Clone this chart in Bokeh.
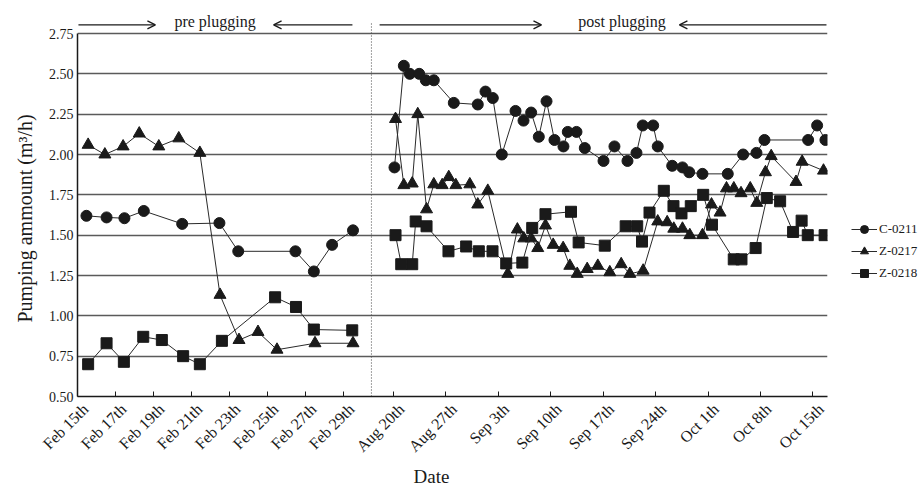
import math
from bokeh.plotting import figure
from bokeh.models import (FixedTicker, Legend, LegendItem, Arrow, OpenHead, Label, LinearAxis,
                          Title)
from bokeh.embed import file_html
from bokeh.resources import INLINE

# ---------------- data ----------------
# pre plugging: day of February
pre_c0211_day = [15.47, 16.53, 17.47, 18.49, 20.51, 22.47, 23.46, 26.47, 27.44, 28.4, 29.5]
pre_c0211 = [1.62, 1.61, 1.605, 1.65, 1.57, 1.575, 1.40, 1.40, 1.275, 1.44, 1.53]
pre_z0217_day = [15.56, 16.44, 17.4, 18.25, 19.28, 20.33, 21.44, 22.5, 23.5, 24.5, 25.5, 27.5, 29.5]
pre_z0217 = [2.06, 2.00, 2.05, 2.13, 2.05, 2.10, 2.01, 1.13, 0.85, 0.90, 0.79, 0.83, 0.83]
pre_z0218_day = [15.56, 16.53, 17.44, 18.46, 19.44, 20.56, 21.44, 22.6, 25.4, 26.5, 27.44, 29.46]
pre_z0218 = [0.70, 0.83, 0.715, 0.87, 0.85, 0.75, 0.70, 0.845, 1.115, 1.055, 0.915, 0.91]

# post plugging: days after Aug 20
post_c0211_day = [0.13, 1.38, 2.18, 3.43, 4.31, 5.38, 8.05, 11.25, 12.28, 13.26, 14.46, 16.29,
                  17.36, 18.38, 19.40, 20.43, 21.49, 22.69, 23.27, 24.43, 25.54, 28.04, 29.50,
                  31.24, 32.44, 33.28, 34.67, 35.28, 37.21, 38.58, 39.48, 41.25, 44.63, 46.68,
                  48.46, 49.53, 55.36, 56.56, 57.67]
post_c0211 = [1.92, 2.55, 2.50, 2.50, 2.46, 2.46, 2.32, 2.31, 2.39, 2.35, 2.00, 2.27,
              2.21, 2.26, 2.11, 2.33, 2.09, 2.05, 2.14, 2.14, 2.04, 1.96, 2.05,
              1.96, 2.01, 2.18, 2.18, 2.05, 1.93, 1.92, 1.89, 1.88, 1.88, 2.00,
              2.01, 2.09, 2.09, 2.18, 2.09]
post_z0217_day = [0.27, 1.38, 2.5, 3.24, 4.41, 5.38, 6.5, 7.38, 8.32, 10.19, 11.25, 12.59,
                  15.26, 16.54, 17.39, 18.38, 19.26, 20.29, 21.32, 22.65, 23.54, 24.53, 25.86,
                  27.28, 28.88, 30.40, 31.55, 33.33, 35.28, 36.54, 37.42, 38.58, 39.56, 41.25,
                  42.46, 43.6, 44.46, 45.44, 46.40, 47.63, 48.5, 49.66, 50.43, 53.74, 54.56, 57.41]
post_z0217 = [2.22, 1.81, 1.82, 2.25, 1.66, 1.815, 1.81, 1.86, 1.81, 1.815, 1.69, 1.775,
              1.26, 1.535, 1.48, 1.48, 1.42, 1.56, 1.44, 1.42, 1.31, 1.26, 1.29,
              1.31, 1.27, 1.32, 1.26, 1.28, 1.585, 1.58, 1.54, 1.54, 1.50, 1.50,
              1.69, 1.64, 1.79, 1.79, 1.76, 1.79, 1.70, 1.89, 1.99, 1.83, 1.955, 1.90]
post_z0218_day = [0.27, 1.03, 2.5, 2.96, 4.41, 7.34, 9.70, 11.39, 13.22, 15.05, 17.20, 18.52,
                  20.29, 23.70, 24.72, 28.21, 31.00, 32.54, 33.18, 34.18, 36.09, 37.38, 38.45,
                  39.69, 41.35, 42.52, 45.43, 46.46, 48.35, 49.84, 51.62, 53.35, 54.49, 55.31,
                  57.56]
post_z0218 = [1.50, 1.32, 1.32, 1.585, 1.555, 1.40, 1.43, 1.40, 1.40, 1.325, 1.33, 1.545,
              1.63, 1.645, 1.455, 1.435, 1.555, 1.555, 1.46, 1.64, 1.775, 1.68, 1.635,
              1.68, 1.75, 1.565, 1.35, 1.35, 1.42, 1.73, 1.71, 1.52, 1.59, 1.50,
              1.50]

pre_tick_days = [15, 17, 19, 21, 23, 25, 27, 29]
post_tick_days = [0, 7, 14, 21, 28, 35, 42, 49, 56]
x_tick_labels = ["Feb 15th", "Feb 17th", "Feb 19th", "Feb 21th", "Feb 23th", "Feb 25th",
                 "Feb 27th", "Feb 29th", "Aug 20th", "Aug 27th", "Sep 3th", "Sep 10th",
                 "Sep 17th", "Sep 24th", "Oct 1th", "Oct 8th", "Oct 15th"]
y_ticks = [0.50, 0.75, 1.00, 1.25, 1.50, 1.75, 2.00, 2.25, 2.50, 2.75]
y_tick_labels = ["0.50", "0.75", "1.00", "1.25", "1.50", "1.75", "2.00", "2.25", "2.50", "2.75"]
series_names = ["C-0211", "Z-0217", "Z-0218"]

# ---------------- broken time axis ----------------
PRE_START = 15.0        # Feb 15 at the left edge
POST_OFFSET = 16.632    # position of Aug 20
POST_SCALE = 0.3942     # compressed scale after plugging
LABEL_SHIFT = 0.42      # rotated labels sit slightly right of their tick


def pre_x(days):
    return [d - PRE_START for d in days]


def post_x(days):
    return [POST_OFFSET + d * POST_SCALE for d in days]


FONT = "Liberation Serif"
INK = "#1a1a1a"

p = figure(frame_width=750, frame_height=386, output_backend="svg", toolbar_location=None,
           x_range=(0, 39.474), y_range=(0.5, 2.8926),
           min_border_left=77, min_border_right=93, min_border_top=10, min_border_bottom=80)
p.outline_line_color = None
p.background_fill_color = "white"
p.border_fill_color = "white"

# grid
p.xgrid.visible = False
p.ygrid.grid_line_color = "#5a5a5a"
p.ygrid.grid_line_width = 1.5

# y axis
p.yaxis.ticker = FixedTicker(ticks=y_ticks)
p.yaxis.major_label_overrides = {t: l for t, l in zip(y_ticks, y_tick_labels)}
p.yaxis.bounds = (0.5, 2.75)
p.yaxis.major_tick_in = 0
p.yaxis.major_tick_out = 0
p.yaxis.minor_tick_line_color = None
p.yaxis.axis_line_color = INK
p.yaxis.axis_line_width = 1.5
p.yaxis.major_label_text_font = FONT
p.yaxis.major_label_text_font_size = "14px"
p.yaxis.major_label_text_color = INK
p.yaxis.major_label_standoff = 4

p.add_layout(Title(text="Pumping ammount (m³/h)", align="left", offset=74, standoff=20,
                   text_font=FONT, text_font_size="20px", text_font_style="normal",
                   text_color=INK), "left")

# x axis: tick marks on the axis line
x_ticks = [round(v, 4) for v in pre_x(pre_tick_days) + post_x(post_tick_days)]
p.xaxis.ticker = FixedTicker(ticks=x_ticks)
p.xaxis.major_label_overrides = {t: "" for t in x_ticks}
p.xaxis.major_label_text_font_size = "1px"
p.xaxis.major_label_standoff = 0
p.xaxis.major_tick_in = 5
p.xaxis.major_tick_out = 0
p.xaxis.major_tick_line_color = INK
p.xaxis.minor_tick_line_color = None
p.xaxis.axis_line_color = INK
p.xaxis.axis_line_width = 1.5

# x axis: rotated date labels
lab_ticks = [round(t + LABEL_SHIFT, 4) for t in x_ticks]
lab_axis = LinearAxis(ticker=FixedTicker(ticks=lab_ticks),
                      major_label_overrides={t: l for t, l in zip(lab_ticks, x_tick_labels)},
                      major_label_orientation=math.pi / 4,
                      axis_line_color=None, major_tick_line_color=None,
                      minor_tick_line_color=None, major_tick_in=0, major_tick_out=0,
                      major_label_standoff=10, major_label_text_font=FONT,
                      major_label_text_font_size="16px", major_label_text_color=INK)
p.add_layout(lab_axis, "below")

p.add_layout(Title(text="Date", align="left", offset=336, standoff=0, text_font=FONT,
                   text_font_size="19px", text_font_style="normal", text_color=INK), "below")

# separator and period annotations
p.segment(x0=[15.47], y0=[0.5], x1=[15.47], y1=[2.824], line_color="#444444",
          line_width=1, line_dash="1 2")
arrow_y = 2.804
for xs, xe in [(0.05, 4.1), (14.47, 10.32), (15.9, 24.42), (39.42, 31.68)]:
    p.add_layout(Arrow(x_start=xs, y_start=arrow_y, x_end=xe, y_end=arrow_y,
                       line_color=INK, line_width=1.2,
                       end=OpenHead(size=8, line_color=INK, line_width=1.3)))
for xc, txt in [(7.24, "pre plugging"), (28.66, "post plugging")]:
    p.add_layout(Label(x=xc, y=2.822, text=txt, text_font=FONT, text_font_size="16px",
                       text_align="center", text_baseline="middle", text_color=INK))

# series
pre_days = [pre_c0211_day, pre_z0217_day, pre_z0218_day]
pre_vals = [pre_c0211, pre_z0217, pre_z0218]
post_days = [post_c0211_day, post_z0217_day, post_z0218_day]
post_vals = [post_c0211, post_z0217, post_z0218]
markers = ["circle", "triangle", "square"]
sizes = [11, 12, 11]

items = []
for name, pd_, pv, qd, qv, mk, sz in zip(series_names, pre_days, pre_vals, post_days,
                                          post_vals, markers, sizes):
    l1 = p.line(pre_x(pd_), pv, line_color="#2a2a2a", line_width=1)
    l2 = p.line(post_x(qd), qv, line_color="#2a2a2a", line_width=1)
    s = p.scatter(pre_x(pd_) + post_x(qd), pv + qv, marker=mk, size=sz,
                  fill_color=INK, line_color=INK)
    items.append(LegendItem(label=name, renderers=[l1, s]))

legend = Legend(items=items, location=(24, 113), border_line_color=None,
                background_fill_alpha=0, padding=0, margin=0, spacing=2,
                glyph_width=26, glyph_height=20, label_height=20, label_standoff=2,
                label_text_font=FONT, label_text_font_size="13px", label_text_color=INK)
p.add_layout(legend, "right")

open("out.html", "w").write(file_html(p, INLINE))
